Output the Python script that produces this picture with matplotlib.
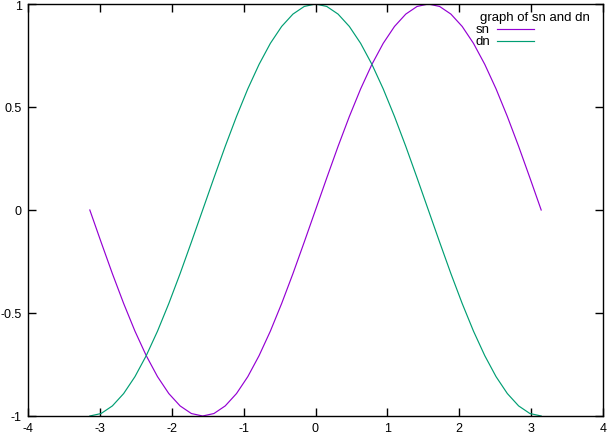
import numpy as np
import matplotlib
matplotlib.use("Agg")
import matplotlib.pyplot as plt
from matplotlib.lines import Line2D

plt.rcParams['font.family'] = ['Liberation Sans', 'DejaVu Sans']

# sample positions (-pi .. pi), 41 samples
x = np.linspace(-3.14, 3.14, 41)

sn = [0.0, -0.156, -0.309, -0.454, -0.588, -0.707, -0.809, -0.891, -0.951, -0.988,
      -1.0, -0.988, -0.951, -0.891, -0.809, -0.707, -0.588, -0.454, -0.309, -0.156,
      0.0, 0.156, 0.309, 0.454, 0.588, 0.707, 0.809, 0.891, 0.951, 0.988,
      1.0, 0.988, 0.951, 0.891, 0.809, 0.707, 0.588, 0.454, 0.309, 0.156, 0.0]

dn = [-1.0, -0.988, -0.951, -0.891, -0.809, -0.707, -0.588, -0.454, -0.309, -0.156,
      0.0, 0.156, 0.309, 0.454, 0.588, 0.707, 0.809, 0.891, 0.951, 0.988,
      1.0, 0.988, 0.951, 0.891, 0.809, 0.707, 0.588, 0.454, 0.309, 0.156,
      0.0, -0.156, -0.309, -0.454, -0.588, -0.707, -0.809, -0.891, -0.951, -0.988, -1.0]

xticks = [-4, -3, -2, -1, 0, 1, 2, 3, 4]
yticks = [-1, -0.5, 0, 0.5, 1]
ytick_labels = ['-1', '-0.5', '0', '0.5', '1']

series = [('sn', sn, '#9400d3'), ('dn', dn, '#009e73')]

W, H = 608, 435
fig = plt.figure(figsize=(W / 100, H / 100), dpi=100)
ax = fig.add_axes([28 / W, 18 / H, 575 / W, 412 / H])

for name, vals, col in series:
    ax.plot(x, vals, color=col, linewidth=0.85)

ax.set_xlim(-4, 4)
ax.set_ylim(-1, 1)
ax.set_xticks(xticks)
ax.set_xticklabels([str(t) for t in xticks])
ax.set_yticks(yticks)
ax.set_yticklabels(ytick_labels)
ax.tick_params(direction='in', length=6, width=1, top=True, right=True,
               labelsize=9)
ax.tick_params(axis='y', pad=4.5)
ax.tick_params(axis='x', pad=4.5)
for s in ax.spines.values():
    s.set_linewidth(1)

# key, gnuplot style: title then label + line sample
fig.text(535 / W, 1 - 17.5 / H, 'graph of sn and dn', ha='center', va='center',
         fontsize=9.5)
for i, (name, vals, col) in enumerate(series):
    yy = 1 - (30 + 12.3 * i) / H
    fig.text(490 / W, yy, name, ha='right', va='center', fontsize=9.5)
    fig.add_artist(Line2D([497 / W, 534 / W], [yy, yy], color=col,
                          linewidth=0.85, transform=fig.transFigure))

fig.savefig('out.png', dpi=100)
